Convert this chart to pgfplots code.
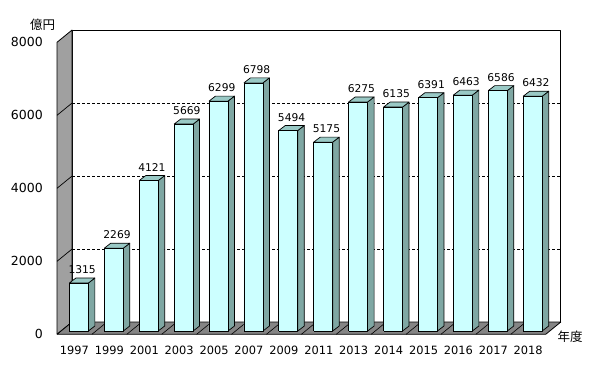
\documentclass[border=0pt]{standalone}
\usepackage{fontspec}
\setmainfont{DejaVu Sans}
\newfontfamily\jp{Noto Sans CJK JP}
\usepackage{pgfplots}
\usepackage{pgfplotstable}
\pgfplotsset{compat=1.18}
\definecolor{barfront}{HTML}{CCFFFF}
\definecolor{barside}{HTML}{7FA7A3}
\definecolor{bartop}{HTML}{99C9C5}
\definecolor{wallgray}{HTML}{A0A0A0}
\definecolor{floorgray}{HTML}{858585}
\pgfplotstableread{
idx year value
0 1997 1315
1 1999 2269
2 2001 4121
3 2003 5669
4 2005 6299
5 2007 6798
6 2009 5494
7 2011 5175
8 2013 6275
9 2014 6135
10 2015 6391
11 2016 6463
12 2017 6586
13 2018 6432
}\datatable
\pgfplotsset{
  barface/.style={draw=black, line width=0.7bp, line join=round},
  wallface/.style={draw=black, line width=0.8bp, line join=round},
}
\begin{document}
\begin{tikzpicture}
\begin{axis}[
  scale only axis, width=488.7bp, height=292bp,
  xmin=-0.5, xmax=13.5, ymin=0, ymax=8000,
  clip=false,
  axis line style={draw=none},
  major tick length=0pt,
  xtick={0,...,13},
  xticklabels={1997,1999,2001,2003,2005,2007,2009,2011,2013,2014,2015,2016,2017,2018},
  ytick={0,2000,4000,6000,8000},
  yticklabels={0,2000,4000,6000,8000},
  xticklabel style={font=\fontsize{11.4bp}{13bp}\selectfont, inner sep=0pt, anchor=north, yshift=-12bp},
  yticklabel style={font=\fontsize{12.5bp}{15bp}\selectfont, inner sep=0pt, anchor=east, xshift=-14bp},
]
% back wall
\addplot[wallface, fill=white] coordinates {(-0.07,335) (13.93,335) (13.93,8335) (-0.07,8335) (-0.07,335)};
% left wall
\addplot[wallface, fill=wallgray] coordinates {(-0.5,0) (-0.5,8000) (-0.07,8335) (-0.07,335) (-0.5,0)};
% floor
\addplot[wallface, fill=floorgray] coordinates {(-0.5,0) (13.5,0) (13.93,335) (-0.07,335) (-0.5,0)};
% gridlines on back wall
\addplot[black, line width=0.9bp, dash pattern=on 3bp off 2bp] coordinates {(-0.07,2335) (13.93,2335)};
\addplot[black, line width=0.9bp, dash pattern=on 3bp off 2bp] coordinates {(-0.07,4335) (13.93,4335)};
\addplot[black, line width=0.9bp, dash pattern=on 3bp off 2bp] coordinates {(-0.07,6335) (13.93,6335)};
% gridlines on left wall
\addplot[black, line width=0.7bp] coordinates {(-0.5,2000) (-0.07,2335)};
\addplot[black, line width=0.7bp] coordinates {(-0.5,4000) (-0.07,4335)};
\addplot[black, line width=0.7bp] coordinates {(-0.5,6000) (-0.07,6335)};
% floor dividers
\pgfplotsforeachungrouped \k in {1,...,13}{%
  \pgfmathsetmacro\fa{\k-0.5}
  \pgfmathsetmacro\fb{\k-0.07}
  \edef\temp{\noexpand\addplot[black, line width=0.6bp] coordinates {(\fa,0) (\fb,335)};}
  \temp
}
% bars
\pgfplotsforeachungrouped \i in {0,...,13}{%
  \pgfplotstablegetelem{\i}{value}\of\datatable
  \pgfmathsetmacro\va{\pgfplotsretval+90}
  \pgfmathsetmacro\vb{\pgfplotsretval+227}
  \pgfmathsetmacro\xa{\i+0.126-0.272}
  \pgfmathsetmacro\xb{\i+0.126+0.272}
  \pgfmathsetmacro\xc{\xb+0.187}
  \pgfmathsetmacro\xd{\xa+0.187}
  \edef\temp{%
    \noexpand\addplot[barface, fill=barside] coordinates {(\xb,90) (\xc,227) (\xc,\vb) (\xb,\va) (\xb,90)};
    \noexpand\addplot[barface, fill=bartop] coordinates {(\xa,\va) (\xb,\va) (\xc,\vb) (\xd,\vb) (\xa,\va)};
    \noexpand\addplot[barface, fill=barfront] coordinates {(\xa,90) (\xb,90) (\xb,\va) (\xa,\va) (\xa,90)};
  }%
  \temp
}
% value labels
\addplot[draw=none, point meta=explicit symbolic, nodes near coords,
  every node near coord/.append style={anchor=south, inner sep=0pt, yshift=4bp, font=\fontsize{10.7bp}{12bp}\selectfont}]
  table[x expr=\thisrow{idx}+0.22, y expr=\thisrow{value}+227, meta=value] {\datatable};
\node[font=\jp\fontsize{12.5bp}{14bp}\selectfont] at (axis cs:-0.915,8474) {億円};
\node[font=\jp\fontsize{12.5bp}{14bp}\selectfont] at (axis cs:14.199,-66) {年度};
\end{axis}
\path (current axis.south west) ++(-57bp,-35.7bp) rectangle ++(600bp,370bp);
\end{tikzpicture}
\end{document}
